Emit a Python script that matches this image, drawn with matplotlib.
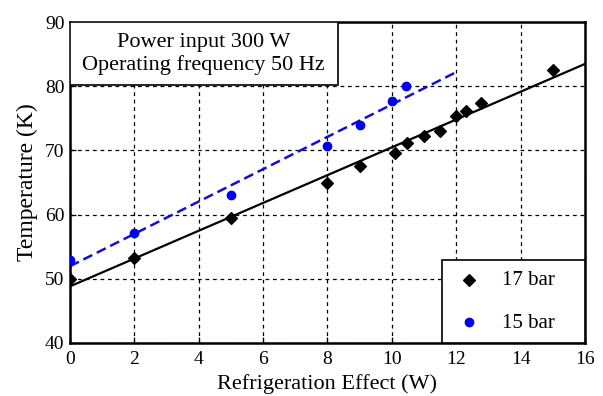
"""Temperature vs refrigeration effect at two charge pressures."""

import numpy as np
import matplotlib.pyplot as plt
from matplotlib.patches import Rectangle

plt.rcParams["font.family"] = ["Liberation Serif", "DejaVu Serif"]

qc_17 = [0, 2, 5, 8, 9, 10.1, 10.47, 11.0, 11.5, 12.0, 12.3, 12.77, 15.0]
temp_17 = [50.0, 53.3, 59.5, 65.0, 67.6, 69.6, 71.1, 72.3, 73.1, 75.3, 76.1, 77.4, 82.5]

qc_15 = [0, 2, 5, 8, 9, 10.0, 10.43]
temp_15 = [53.0, 57.2, 63.0, 70.7, 74.0, 77.7, 80.1]

# Linear fits
p17 = np.polyfit(qc_17, temp_17, 1)
p15 = np.polyfit(qc_15, temp_15, 1)
x17 = np.array([0, 16])
x15 = np.array([0, 12])

fig = plt.figure(figsize=(6.03, 3.96), dpi=100)
ax = fig.add_axes([0.116, 0.134, 0.854, 0.810])

ax.plot(x17, np.polyval(p17, x17), color="black", lw=1.6, zorder=2)
ax.plot(x15, np.polyval(p15, x15), color="#1010d0", lw=1.8, ls=(0, (4, 2)), zorder=2)
ax.scatter(qc_17, temp_17, marker="D", s=36, color="black", label="17 bar", zorder=3)
ax.scatter(qc_15, temp_15, marker="o", s=36, color="#0000ee", label="15 bar", zorder=3)

ax.set_xlim(0, 16)
ax.set_ylim(40, 90)
ax.set_xticks(range(0, 17, 2))
ax.set_yticks(range(40, 91, 10))
ax.grid(color="black", ls=(0, (3, 3)), lw=0.9)
ax.tick_params(labelsize=14, direction="in", length=4, width=0.9)
ax.tick_params(axis="x", pad=6)
ax.tick_params(axis="y", pad=4)
for sp in ax.spines.values():
    sp.set_linewidth(1.8)

ax.set_xlabel("Refrigeration Effect (W)", fontsize=16, labelpad=4)
ax.set_ylabel("Temperature (K)", fontsize=17, labelpad=5)

# Annotation box pinned to the top-left corner
ax.add_patch(Rectangle((0, 0.804), 0.52, 0.196, transform=ax.transAxes,
                       fc="white", ec="black", lw=1.2, zorder=5))
ax.text(0.26, 0.902, "Power input 300 W\nOperating frequency 50 Hz", transform=ax.transAxes,
        ha="center", va="center", fontsize=16, linespacing=1.2, zorder=6)

leg = ax.legend(loc="lower left", bbox_to_anchor=(0.722, 0.0, 0.278, 0.249),
                mode="expand", fontsize=15, frameon=True, fancybox=False, framealpha=1,
                borderaxespad=0, handlelength=1.6, handletextpad=0.8, borderpad=0.5,
                labelspacing=1.1, scatterpoints=1)
leg.get_frame().set_edgecolor("black")
leg.get_frame().set_linewidth(1.2)
leg.set_zorder(6)

fig.savefig("out.png", dpi=100)
